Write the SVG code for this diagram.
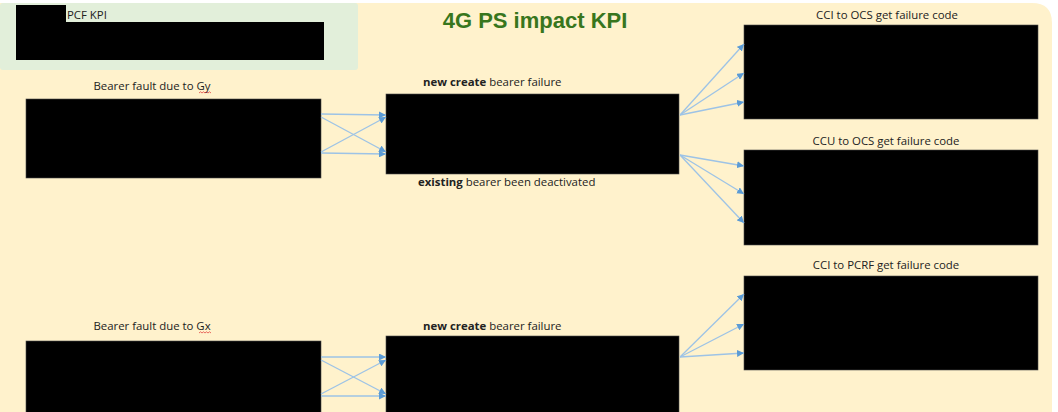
<svg xmlns="http://www.w3.org/2000/svg" width="1058" height="412" viewBox="0 0 1058 412">
  <defs>
    <marker id="arr" viewBox="0 0 10 10" refX="10" refY="5" markerWidth="7" markerHeight="7" markerUnits="userSpaceOnUse" orient="auto">
      <path d="M0,0 L10,5 L0,10 z" fill="#5B9BD5"/>
    </marker>
    <style>
      .lbl { font-family: "Open Sans", "Liberation Sans", sans-serif; font-size: 11.4px; fill: #222; }
      .b { font-weight: bold; }
      .box { fill: #000; stroke: #4a4a4a; stroke-width: 0.6; }
      .con { stroke: #9DC3E6; stroke-width: 1.3; fill: none; marker-end: url(#arr); }
      .squig { stroke: #e03030; stroke-width: 0.7; fill: none; }
    </style>
  </defs>

  <!-- page background -->
  <rect x="0" y="0" width="1058" height="412" fill="#ffffff"/>
  <path d="M0,3 H1032 Q1052,3 1052,23 V412 H0 Z" fill="#FFF2CC"/>

  <!-- PCF KPI panel -->
  <g id="pcf-kpi">
    <rect x="0" y="3" width="358" height="67" rx="3" fill="#E2EFDA"/>
    <rect x="16" y="5" width="50" height="17" fill="#000"/>
    <text class="lbl" x="67" y="18.5">PCF KPI</text>
    <rect x="16" y="22" width="308" height="38" fill="#000"/>
  </g>

  <!-- title -->
  <text x="535" y="28" text-anchor="middle" font-family="Liberation Sans, Arial, sans-serif" font-size="22" font-weight="bold" fill="#38761D">4G PS impact KPI</text>

  <!-- Gy fault -->
  <g id="gy-fault">
    <text class="lbl" x="152" y="90" text-anchor="middle">Bearer fault due to Gy</text>
    <path class="squig" d="M199,93 l1.5,-1.2 l1.5,1.2 l1.5,-1.2 l1.5,1.2 l1.5,-1.2 l1.5,1.2 l1.5,-1.2 l1.5,1.2"/>
    <rect class="box" x="26" y="99" width="295" height="79"/>
  </g>

  <!-- Gy bearer outcome -->
  <g id="gy-bearer">
    <text class="lbl" x="423" y="86"><tspan class="b">new create</tspan> bearer failure</text>
    <rect class="box" x="386" y="94" width="293" height="80"/>
    <text class="lbl" x="418" y="185.5"><tspan class="b">existing</tspan> bearer been deactivated</text>
  </g>

  <!-- Gx fault -->
  <g id="gx-fault">
    <text class="lbl" x="152" y="330" text-anchor="middle">Bearer fault due to Gx</text>
    <path class="squig" d="M199,333 l1.5,-1.2 l1.5,1.2 l1.5,-1.2 l1.5,1.2 l1.5,-1.2 l1.5,1.2 l1.5,-1.2 l1.5,1.2"/>
    <rect class="box" x="26" y="341" width="295" height="75"/>
  </g>

  <!-- Gx bearer outcome -->
  <g id="gx-bearer">
    <text class="lbl" x="423" y="329.5"><tspan class="b">new create</tspan> bearer failure</text>
    <rect class="box" x="386" y="336" width="293" height="80"/>
  </g>

  <!-- failure code groups -->
  <g id="cci-ocs">
    <text class="lbl" x="887" y="18.5" text-anchor="middle">CCI to OCS get failure code</text>
    <rect class="box" x="744" y="25" width="294" height="94"/>
  </g>
  <g id="ccu-ocs">
    <text class="lbl" x="886" y="144.5" text-anchor="middle">CCU to OCS get failure code</text>
    <rect class="box" x="744" y="150" width="294" height="95"/>
  </g>
  <g id="cci-pcrf">
    <text class="lbl" x="886" y="269" text-anchor="middle">CCI to PCRF get failure code</text>
    <rect class="box" x="744" y="276" width="294" height="94"/>
  </g>

  <!-- connectors -->
  <g id="connectors">
    <!-- Gy fault to bearer outcome -->
    <line class="con" x1="321" y1="114" x2="386" y2="115"/>
    <line class="con" x1="321" y1="153" x2="386" y2="154"/>
    <line class="con" x1="321" y1="117" x2="386" y2="152"/>
    <line class="con" x1="321" y1="152" x2="386" y2="117"/>
    <!-- new create fan -->
    <line class="con" x1="680" y1="115" x2="744" y2="44"/>
    <line class="con" x1="680" y1="115" x2="744" y2="73"/>
    <line class="con" x1="680" y1="115" x2="744" y2="102"/>
    <!-- existing bearer fan -->
    <line class="con" x1="680" y1="155" x2="744" y2="166"/>
    <line class="con" x1="680" y1="155" x2="744" y2="194"/>
    <line class="con" x1="680" y1="155" x2="744" y2="223"/>
    <!-- Gx fault to bearer outcome -->
    <line class="con" x1="321" y1="357" x2="386" y2="357"/>
    <line class="con" x1="321" y1="396" x2="386" y2="396"/>
    <line class="con" x1="321" y1="360" x2="386" y2="394"/>
    <line class="con" x1="321" y1="394" x2="386" y2="360"/>
    <!-- Gx new create fan -->
    <line class="con" x1="680" y1="357" x2="744" y2="294"/>
    <line class="con" x1="680" y1="357" x2="744" y2="324"/>
    <line class="con" x1="680" y1="357" x2="744" y2="353"/>
  </g>
</svg>
